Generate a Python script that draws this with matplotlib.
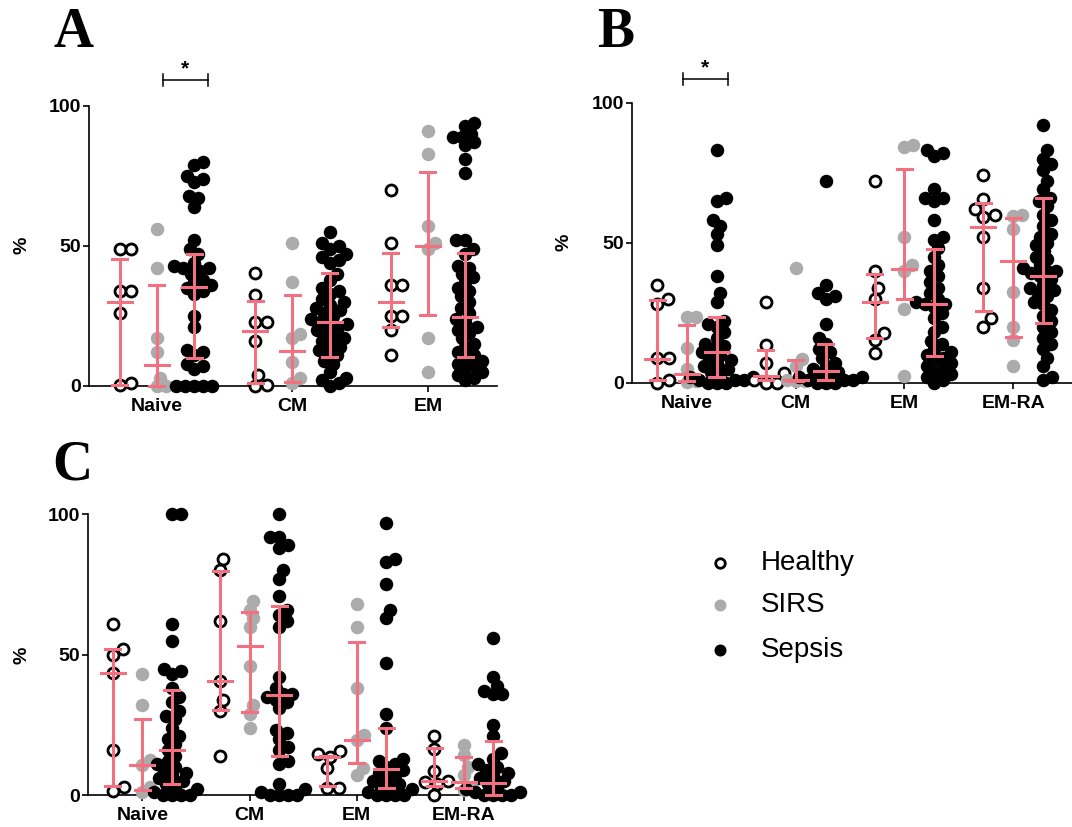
import numpy as np
import matplotlib
matplotlib.use("Agg")
import matplotlib.pyplot as plt
from matplotlib.lines import Line2D

# ---------------- data ----------------
cats_A = ["Naive", "CM", "EM"]
cats_BC = ["Naive", "CM", "EM", "EM-RA"]
groups = ["Healthy", "SIRS", "Sepsis"]

# Panel A
A_healthy = [[49, 49, 34, 34, 26, 1, 0.5],
             [40.5, 32.5, 23, 23, 16, 4, 0.5, 0],
             [70, 51, 36, 36, 25, 25, 20, 11]]
A_sirs = [[56, 42, 17, 12, 3, 0, 0],
          [51, 37, 18.5, 17, 8.5, 3, 1],
          [91, 83, 57, 51, 49, 17, 5]]
A_sepsis = [[80, 79, 75, 74, 73, 68, 67, 64, 52, 49, 47, 44, 43, 42, 42, 41, 40, 38, 37,
             36, 35, 34, 33, 25, 21, 13, 12, 11, 8, 7, 6, 0, 0, 0, 0, 0],
            [55, 51, 50, 49, 47, 46, 45, 44, 40, 38, 35, 34, 33, 31, 30, 29, 28, 27, 26, 25,
             24, 23, 22, 22, 21, 20, 19, 18, 17, 16, 15, 14, 13, 12, 11, 9, 8, 5, 3, 2, 1, 0],
            [94, 93, 90, 89, 89, 87, 86, 81, 76, 52, 52, 49, 47, 43, 42, 40, 39, 37, 35, 34,
             32, 30, 28, 26, 24, 23, 21, 20, 19, 17, 15, 14, 12, 11, 10, 9, 8, 7, 6, 5, 4, 3, 2]]
# (median, low, high)
A_healthy_bar = [(30, 0.5, 45.5), (19.5, 1, 30.5), (30, 21, 47.5)]
A_sirs_bar = [(7.5, 0, 36), (12.5, 1.5, 32.5), (50, 25.5, 76.5)]
A_sepsis_bar = [(35.5, 10, 47), (23, 10.3, 40.2), (24.5, 10.5, 47.5)]

# Panel B
B_healthy = [[35, 30, 28, 9, 9, 1, 0],
             [29, 13.5, 7, 3.3, 1, 0, 0],
             [72, 40, 34, 30, 17.6, 15.2, 10.5],
             [74, 65.5, 62, 60, 59, 52, 34, 23, 20]]
B_sirs = [[23.5, 23.5, 12.3, 5, 0.5, 0.3],
          [41, 8.5, 6, 2, 1, 0.5, 0.5],
          [85, 84, 52, 42, 40, 26.5, 2.5],
          [60, 59.5, 55, 32.5, 20, 15.2, 6]]
B_sepsis = [[83, 66, 65, 58, 56, 53, 49, 38, 32, 29, 22, 21, 20, 18, 16, 14, 13, 12, 11, 10,
             9, 8, 7, 6, 5, 4, 3, 2, 2, 1, 1, 1, 0, 0, 0],
            [72, 35, 32, 31, 30, 21, 16, 14, 12, 11, 9, 7, 6, 5, 4, 3, 3, 2, 2, 1, 1, 1, 0, 0, 0],
            [83, 82, 81, 69, 66, 66, 65, 58, 52, 51, 48, 45, 42, 40, 38, 36, 34, 32, 30, 29,
             28, 28, 27, 25, 23, 20, 18, 15, 14, 12, 11, 10, 9, 8, 7, 6, 5, 4, 3, 2, 1, 0],
            [92, 83, 80, 78, 76, 72, 69, 66, 65, 63, 60, 58, 56, 53, 52, 50, 49, 47, 45, 44,
             42, 41, 40, 40, 39, 38, 37, 35, 34, 33, 32, 31, 29, 28, 26, 24, 22, 20, 18, 16,
             14, 12, 9, 6, 2, 1]]
B_healthy_bar = [(8.5, 1, 29.5), (2.5, 1, 11.7), (29, 15.8, 38.7), (55.5, 25.5, 64)]
B_sirs_bar = [(3, 0.5, 20.6), (1, 0.5, 8.1), (40.5, 29.8, 76.2), (43.6, 16.2, 58.9)]
B_sepsis_bar = [(11, 2.1, 23.6), (4.2, 1, 13.7), (28, 9.5, 47.6), (38, 21.2, 65.8)]

# Panel C
C_healthy = [[61, 52, 50, 43.5, 16, 3, 1.5],
             [84, 80, 62, 40.5, 34, 30, 14],
             [15.5, 14.5, 13.5, 9.5, 2.5, 2.5],
             [21, 16.5, 8.5, 5, 4.5, 4, 0]]
C_sirs = [[43, 32, 12.5, 10.7, 3, 1.2],
          [69, 66, 63, 60, 46, 32, 29, 24],
          [68, 60, 38, 21.4, 19.6, 9.5, 7.1],
          [17.8, 14.3, 10, 7.1, 3, 1.8]]
C_sepsis = [[100, 100, 61, 55, 45, 44, 43, 38, 35, 33, 30, 28, 27, 24, 21, 20, 18, 16, 14, 12,
             11, 10, 9, 8, 7, 6, 5, 4, 3, 2, 1, 0, 0, 0, 0],
            [100, 92, 92, 89, 88, 80, 77, 71, 66, 64, 62, 60, 42, 38, 36, 36, 35, 34, 33, 31,
             23, 22, 20, 17, 16, 12, 11, 4, 2, 1, 0, 0, 0, 0],
            [97, 84, 83, 75, 66, 63, 47, 29, 24, 13, 12, 11, 10, 9, 8, 7, 6, 5, 4, 3, 3, 2, 1,
             0, 0, 0, 0],
            [56, 42, 39, 37, 36, 36, 25, 21, 15, 13, 11, 10, 9, 8, 7, 6, 5, 4, 3, 2, 1, 1, 0, 0,
             0, 0]]
C_healthy_bar = [(43.6, 3.2, 52), (40.7, 30.3, 79.9), (13.5, 3.2, 14), (5, 3.2, 16.6)]
C_sirs_bar = [(10.7, 1.8, 27), (53.1, 29.7, 65.3), (19.6, 11.5, 54.5), (4.5, 2.4, 13.7)]
C_sepsis_bar = [(16, 3.8, 37.4), (35.5, 14, 67.5), (9.1, 2.5, 24), (4.2, 0, 19.4)]

# ---------------- styling ----------------
PINK = "#F2707F"
GRAY = "#ABABAB"
SANS = "Liberation Sans"
SERIF = "Liberation Serif"
W, H = 1072, 827
DPI = 100
PT = 72.0 / DPI  # points per pixel

plt.rcParams["font.family"] = [SANS, "DejaVu Sans"]

fig = plt.figure(figsize=(W / DPI, H / DPI), dpi=DPI)


def px_box(left, right, y0, y100):
    return [left / W, (H - y0) / H, (right - left) / W, (y0 - y100) / H]


def swarm(values, xc, xs, ys, d=8.0):
    vals = np.asarray(values, dtype=float)
    order = np.argsort(vals, kind="stable")
    placed = []
    xo = np.zeros(len(vals))
    for i in order:
        y = vals[i] * ys
        best = None
        k = 0
        while best is None:
            for dx in ([0.0] if k == 0 else [k * 0.5, -k * 0.5]):
                if all((dx - px) ** 2 + (y - py) ** 2 >= d * d for px, py in placed):
                    best = dx
                    break
            k += 1
        placed.append((best, y))
        xo[i] = best / xs
    return xc + xo


def panel(box, cats, healthy, sirs, sepsis, hbar, sbar, pbar, xlim, off):
    ax = fig.add_axes(box)
    ax.set_xlim(*xlim)
    ax.set_ylim(0, 100)
    bb = ax.get_position()
    xs = bb.width * W / (xlim[1] - xlim[0])
    ys = bb.height * H / 100.0
    for spn in ["top", "right"]:
        ax.spines[spn].set_visible(False)
    for spn in ["left", "bottom"]:
        ax.spines[spn].set_linewidth(1.2)
    ax.tick_params(axis="both", direction="out", length=4, width=1.2, pad=2)
    ax.set_yticks([0, 50, 100])
    ax.set_yticklabels(["0", "50", "100"], fontsize=14, fontweight="bold", family=SANS)
    ax.set_xticks(range(len(cats)))
    ax.set_xticklabels(cats, fontsize=14, fontweight="bold", family=SANS)
    ax.tick_params(axis="x", pad=5)

    for gi, cat in enumerate(cats):
        specs = [(healthy[gi], -off, "open", hbar[gi]),
                 (sirs[gi], 0.0, GRAY, sbar[gi]),
                 (sepsis[gi], off, "black", pbar[gi])]
        for vals, dxo, col, bar in specs:
            xpos = swarm(vals, gi + dxo, xs, ys, d=(11.5 if col == "open" else 9.0))
            if col == "open":
                ax.plot(xpos, vals, "o", ms=11.0 * PT, mfc="white", mec="black",
                        mew=2.8 * PT, ls="none", clip_on=False, zorder=3)
            else:
                ax.plot(xpos, vals, "o", ms=13.5 * PT, mfc=col, mec="none",
                        ls="none", clip_on=False, zorder=3)
            med, lo, hi = bar
            xc = gi + dxo
            cap = 7.5 / xs
            mw = 12.0 / xs
            lw = 2.2
            ax.plot([xc, xc], [lo, hi], color=PINK, lw=lw, zorder=5, clip_on=False,
                    solid_capstyle="butt")
            ax.plot([xc - cap, xc + cap], [lo, lo], color=PINK, lw=lw, zorder=5, clip_on=False)
            ax.plot([xc - cap, xc + cap], [hi, hi], color=PINK, lw=lw, zorder=5, clip_on=False)
            ax.plot([xc - mw, xc + mw], [med, med], color=PINK, lw=lw, zorder=5, clip_on=False)
    return ax, xs, ys


axA, xsA, ysA = panel(px_box(89.3, 497, 386, 106), cats_A, A_healthy, A_sirs, A_sepsis,
                      A_healthy_bar, A_sirs_bar, A_sepsis_bar, (-0.498, 2.51), 0.275)
axB, xsB, ysB = panel(px_box(632, 1072, 382.7, 102.7), cats_BC, B_healthy, B_sirs, B_sepsis,
                      B_healthy_bar, B_sirs_bar, B_sepsis_bar, (-0.505, 3.54), 0.275)
axC, xsC, ysC = panel(px_box(88.3, 517, 795, 514.3), cats_BC, C_healthy, C_sirs, C_sepsis,
                      C_healthy_bar, C_sirs_bar, C_sepsis_bar, (-0.504, 3.495), 0.275)


# significance bars
def sig(ax, x0, x1, y, ys):
    t = 6.0 / ys
    ax.plot([x0, x1], [y, y], color="black", lw=1.1, clip_on=False)
    ax.plot([x0, x0], [y - t, y + t], color="black", lw=1.1, clip_on=False)
    ax.plot([x1, x1], [y - t, y + t], color="black", lw=1.1, clip_on=False)
    ax.text((x0 + x1) / 2, y + 0.5, "*", ha="center", va="bottom", fontsize=15,
            fontweight="bold", family=SANS, clip_on=False)


sig(axA, 0.044, 0.376, 109.3, ysA)
sig(axB, -0.037, 0.376, 108.5, ysB)

# y labels
for (xp, yp) in [(22, 245), (564, 242), (22, 655)]:
    fig.text(xp / W, 1 - yp / H, "%", rotation=90, ha="center", va="center",
             fontsize=14, fontweight="bold", family=SANS)

# panel letters
for (xp, yp, s) in [(53, 47, "A"), (597, 47, "B"), (52, 479, "C")]:
    fig.text(xp / W, 1 - yp / H, s, ha="left", va="baseline", fontsize=40,
             fontweight="bold", family=SERIF)

# legend
leg_y = [563, 605, 650]
leg_styles = [dict(mfc="white", mec="black", mew=2.8 * PT, ms=9.5 * PT),
              dict(mfc=GRAY, mec="none", ms=12 * PT),
              dict(mfc="black", mec="none", ms=12 * PT)]
for yy, name, st in zip(leg_y, groups, leg_styles):
    fig.add_artist(Line2D([720 / W], [1 - yy / H], marker="o", ls="none",
                          transform=fig.transFigure, **st))
    fig.text(761 / W, 1 - yy / H, name, ha="left", va="center", fontsize=20, family=SANS)

fig.savefig("out.png", dpi=DPI)
